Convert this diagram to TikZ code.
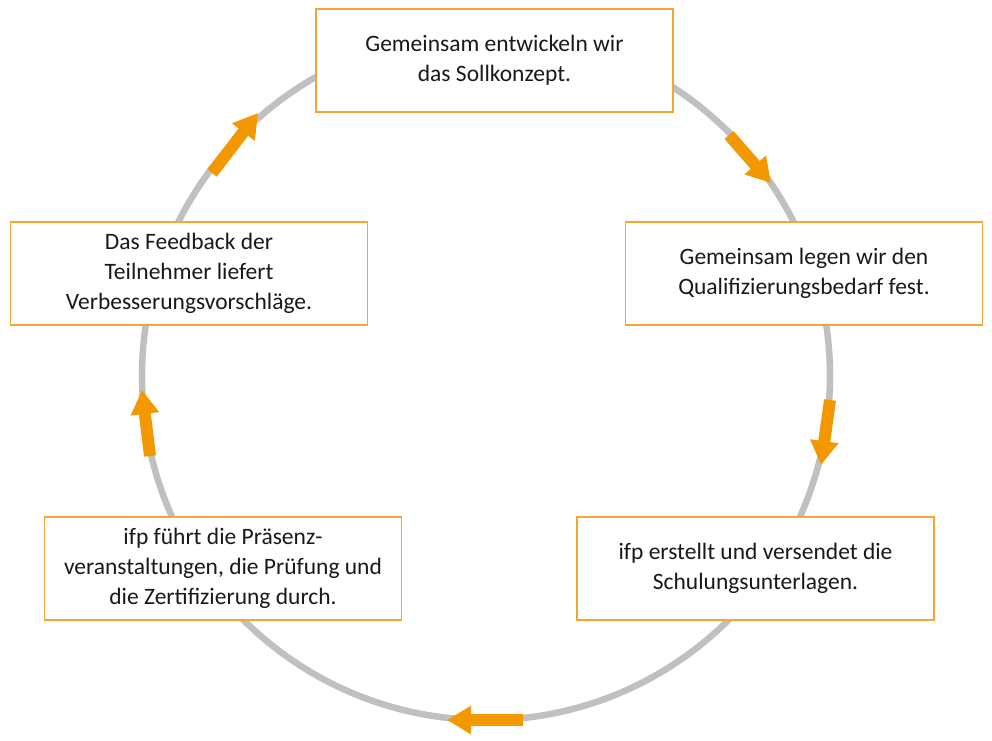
\documentclass[tikz,border=0pt]{standalone}
\usepackage{fontspec}
\setmainfont{Carlito}
\usetikzlibrary{arrows.meta}
\definecolor{boxorange}{RGB}{247,165,50}
\definecolor{arrorange}{RGB}{243,152,0}
\definecolor{ringgray}{RGB}{192,192,192}
\tikzset{
  stepbox/.style={draw=boxorange, line width=1.3pt, fill=white, minimum width=357pt, minimum height=103pt, align=center, inner sep=0pt, font=\fontsize{23.5}{30}\selectfont, text=black!90},
  flowarrow/.style={draw=arrorange, line width=12pt, -{Triangle[width=27pt,length=24pt]}, shorten >=0pt},
}
\begin{document}
\begin{tikzpicture}[x=1pt,y=-1pt]
\useasboundingbox (0,0) rectangle (992,740);
\draw[ringgray, line width=6.5pt] (486,376) circle (344);
\node[stepbox] (b1) at (494.5,60.5) {Gemeinsam entwickeln wir\\das Sollkonzept.};
\node[stepbox] (b2) at (804,273.5) {Gemeinsam legen wir den\\Qualifizierungsbedarf fest.};
\node[stepbox] (b3) at (755.5,568.5) {ifp erstellt und versendet die\\Schulungsunterlagen.};
\node[stepbox] (b4) at (223,568.5) {ifp führt die Präsenz-\\veranstaltungen, die Prüfung und\\die Zertifizierung durch.};
\node[stepbox] (b5) at (189,273.5) {Das Feedback der\\Teilnehmer liefert\\Verbesserungsvorschläge.};
\coordinate (a1s) at (729,135); \coordinate (a1e) at (771,183);
\coordinate (a2s) at (830,400); \coordinate (a2e) at (821,465);
\coordinate (a3s) at (523,720); \coordinate (a3e) at (447,720);
\coordinate (a4s) at (150,456); \coordinate (a4e) at (142,390);
\coordinate (a5s) at (212,173); \coordinate (a5e) at (258,113);
\draw[flowarrow] (a1s) -- (a1e);
\draw[flowarrow] (a2s) -- (a2e);
\draw[flowarrow] (a3s) -- (a3e);
\draw[flowarrow] (a4s) -- (a4e);
\draw[flowarrow] (a5s) -- (a5e);
\end{tikzpicture}
\end{document}
